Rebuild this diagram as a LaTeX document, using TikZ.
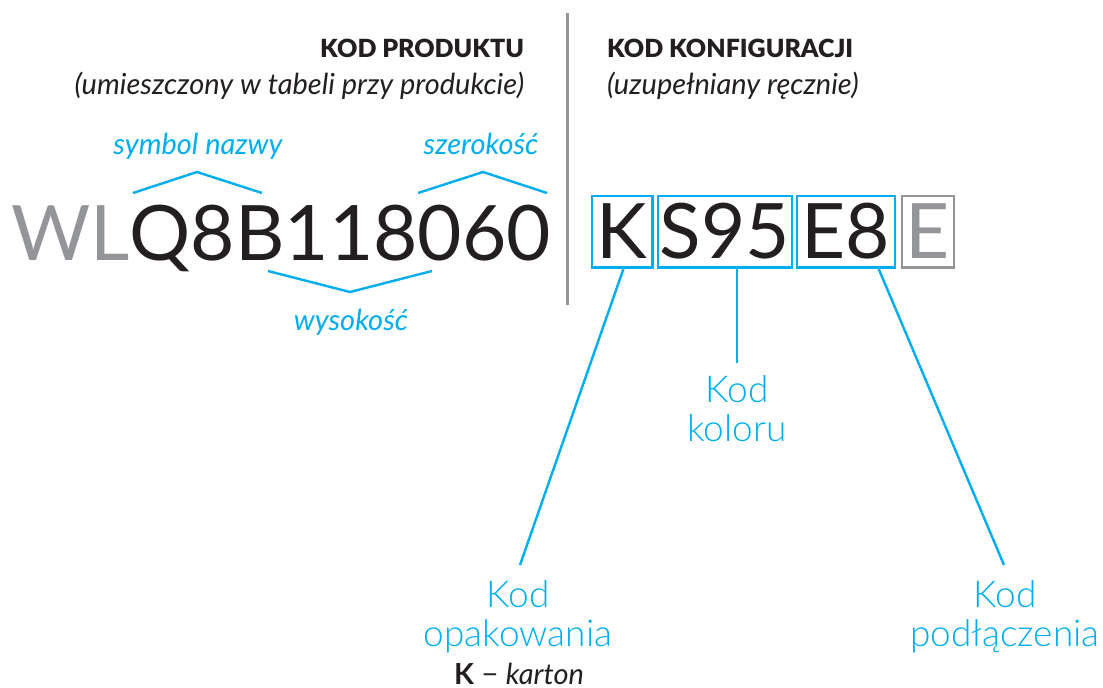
\documentclass[tikz,border=0pt]{standalone}
\usepackage{fontspec}
\usetikzlibrary{calc}
\setmainfont{Lato}
\newfontfamily\lightfont{Lato Light}
\newfontfamily\heavyfont{Lato Black}
\definecolor{cblue}{RGB}{0,174,239}
\definecolor{cgray}{RGB}{147,149,152}
\definecolor{cblack}{RGB}{35,31,32}
\begin{document}
\begin{tikzpicture}[x=1pt,y=-1pt,
  every node/.style={inner sep=0pt, outer sep=0pt, text=cblack},
  head/.style={font=\fontsize{25}{30}\heavyfont},
  sub/.style={font=\fontsize{29}{34}\selectfont\itshape},
  code/.style={font=\fontsize{76.5}{80}\selectfont},
  cbox/.style={draw=cblue, line width=2.4pt, minimum height=71.6pt, code},
  gbox/.style={draw=cgray, line width=2.4pt, minimum height=71.6pt, code, text=cgray},
  bluelab/.style={font=\fontsize{29}{32}\selectfont\itshape, text=cblue},
  bigblue/.style={font=\fontsize{37}{39}\lightfont, text=cblue, align=center},
  bline/.style={draw=cblue, line width=2.4pt},
  chev/.style={draw=cblue, line width=2.4pt}
]
\useasboundingbox (0,0) rectangle (1103,688);

% headers
\node[head, anchor=base east] (h1) at (524,57) {KOD PRODUKTU};
\node[sub, anchor=base east] (s1) at (524,94) {(umieszczony w tabeli przy produkcie)};
\node[head, anchor=base west] (h2) at (607,57) {KOD KONFIGURACJI};
\node[sub, anchor=base west] (s2) at (607,94) {(uzupełniany ręcznie)};

% divider
\coordinate (dtop) at (567.5,13);
\coordinate (dbot) at (567.5,305);
\draw[cgray, line width=2.4pt] (dtop) -- (dbot);

% product code
\node[code, anchor=base west] (pcode) at (11,260) {{\color{cgray}WL}Q8B118060};

% chevrons
\coordinate (a1) at (133,193); \coordinate (a2) at (197,172); \coordinate (a3) at (262,193);
\draw[chev] (a1) -- (a2) -- (a3);
\coordinate (b1) at (418,193); \coordinate (b2) at (483,172); \coordinate (b3) at (547,193);
\draw[chev] (b1) -- (b2) -- (b3);
\coordinate (c1) at (268,271); \coordinate (c2) at (350,292); \coordinate (c3) at (432,271);
\draw[chev] (c1) -- (c2) -- (c3);
\node[bluelab, anchor=base] (lsym) at (198,154) {symbol nazwy};
\node[bluelab, anchor=base] (lsz) at (481,154) {szerokość};
\node[bluelab, anchor=base] (lwy) at (351,330) {wysokość};

% configuration boxes
\node[cbox, minimum width=60.6pt] (bk) at (622,231.5) {K};
\node[cbox, minimum width=134pt] (bs) at (724.7,231.5) {S95};
\node[cbox, minimum width=98.3pt] (be) at (845.9,231.5) {E8};
\node[gbox, minimum width=52pt] (bg) at (928,231.5) {E};

% labels
\node[bigblue, anchor=north] (lkol) at (737,376) {Kod\\koloru};
\node[bigblue, anchor=north] (lopa) at (518,581) {Kod\\opakowania};
\node[bigblue, anchor=north] (lpod) at (1005,581) {Kod\\podłączenia};
\node[anchor=base, font=\fontsize{29}{32}\selectfont] (lkar) at (519,684) {\textbf{K} − \textit{karton}};

% connector end points
\coordinate (sk) at (624,267.3);
\coordinate (ek) at (520,565);
\coordinate (ss) at (737,267.3);
\coordinate (es) at (737,363);
\coordinate (se) at (878,267.3);
\coordinate (ee) at (1004,565);
\draw[bline] (sk) -- (ek);
\draw[bline] (ss) -- (es);
\draw[bline] (se) -- (ee);
\end{tikzpicture}
\end{document}
